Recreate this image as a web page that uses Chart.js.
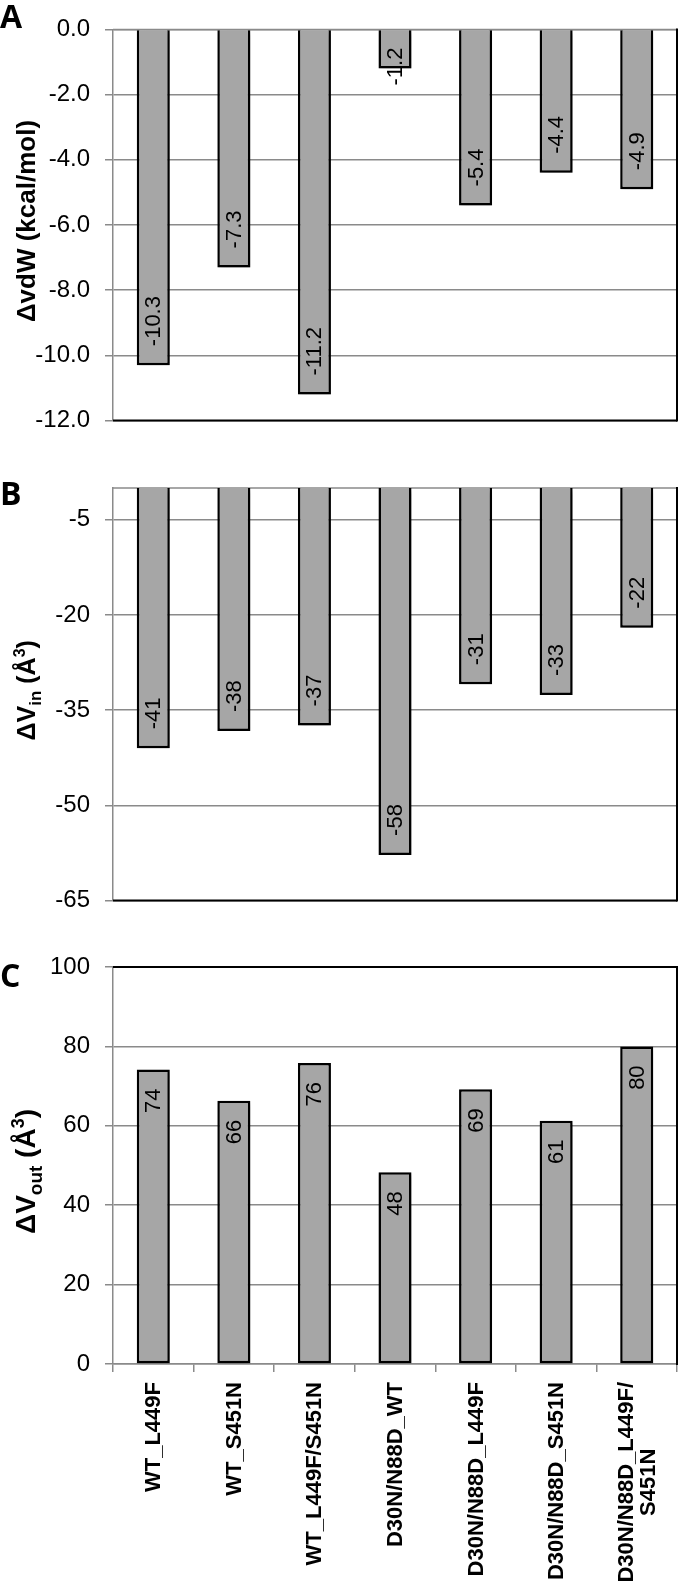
<!DOCTYPE html>
<html>
<head>
<meta charset="utf-8">
<script src="https://cdn.jsdelivr.net/npm/chart.js@4.4.1/dist/chart.umd.min.js"></script>
<style>
  html, body { margin: 0; padding: 0; background: #fff; }
  #wrap { position: relative; width: 680px; height: 1589px; }
  canvas { position: absolute; left: 0; }
</style>
</head>
<body>
<div id="wrap">
  <canvas id="chartA" width="680" height="450" style="top:0px"></canvas>
  <canvas id="chartB" width="680" height="480" style="top:450px"></canvas>
  <canvas id="chartC" width="680" height="659" style="top:930px"></canvas>
</div>
<script>
// --- data ---
const categories = [
  ['WT_L449F'], ['WT_S451N'], ['WT_L449F/S451N'], ['D30N/N88D_WT'],
  ['D30N/N88D_L449F'], ['D30N/N88D_S451N'], ['D30N/N88D_L449F/', 'S451N']
];
const vdwValues = [-10.3, -7.3, -11.2, -1.2, -5.4, -4.4, -4.9];
const vinValues = [-41.0, -38.3, -37.4, -57.8, -30.9, -32.6, -22.0];
const voutValues = [74.2, 66.3, 75.8, 48.3, 69.2, 61.3, 80.0];
const vdwTicks = [0, -2, -4, -6, -8, -10, -12];
const vinTicks = [-5, -20, -35, -50, -65];
const voutTicks = [0, 20, 40, 60, 80, 100];

const FONT = "'Liberation Sans', Arial, sans-serif";
const GRID = '#8a8a8a';
Chart.defaults.font.family = FONT;
Chart.defaults.color = '#000';

// frame, shadow, value labels, titles, letters
const panelExtras = {
  id: 'panelExtras',
  beforeDatasetsDraw(chart, args, o) {
    const { ctx, chartArea: a } = chart;
    const line = (x1, y1, x2, y2, c) => {
      ctx.beginPath();
      ctx.strokeStyle = c;
      ctx.lineWidth = c === '#000' ? 2 : 1.5;
      ctx.moveTo(x1, y1); ctx.lineTo(x2, y2); ctx.stroke();
    };
    ctx.save();
    line(a.left, a.top, a.right, a.top, o.frameTop);
    if (o.frameBottom) line(a.left, a.bottom, a.right, a.bottom, o.frameBottom);
    line(a.right, a.top - 1, a.right, a.bottom + 1, '#000');
    ctx.restore();
    ctx.save();
    ctx.shadowColor = 'rgba(0,0,0,0.35)';
    ctx.shadowBlur = 5;
    ctx.shadowOffsetX = 2;
    ctx.shadowOffsetY = 3;
  },
  afterDatasetsDraw(chart, args, o) {
    const { ctx } = chart;
    ctx.restore();
    const vals = chart.data.datasets[0].data;
    ctx.save();
    ctx.font = `22px ${FONT}`;
    ctx.fillStyle = '#000';
    ctx.textBaseline = 'middle';
    chart.getDatasetMeta(0).data.forEach((bar, i) => {
      const v = vals[i];
      const txt = v.toFixed(o.decimals);
      const w = ctx.measureText(txt).width;
      const len = Math.abs(bar.base - bar.y);
      const inset = 19;
      ctx.save();
      if (len < inset + w + 2) {
        ctx.translate(bar.x + 1, bar.y - 2);
        ctx.rotate(-Math.PI / 2);
        ctx.textAlign = 'center';
      } else if (v < 0) {
        ctx.translate(bar.x + 1, bar.y - inset);
        ctx.rotate(-Math.PI / 2);
        ctx.textAlign = 'left';
      } else {
        ctx.translate(bar.x + 1, bar.y + inset);
        ctx.rotate(-Math.PI / 2);
        ctx.textAlign = 'right';
      }
      ctx.fillText(txt, 0, 0);
      ctx.restore();
    });
    ctx.restore();
  },
  afterDraw(chart, args, o) {
    const { ctx, chartArea: a } = chart;
    ctx.save();
    // panel letter
    ctx.font = `bold 32px 'Open Sans', ${FONT}`;
    ctx.fillStyle = '#000';
    ctx.textAlign = 'left';
    ctx.textBaseline = 'alphabetic';
    ctx.fillText(o.letter, 0, o.letterY);
    // y title with sub/superscripts
    ctx.translate(26, (a.top + a.bottom) / 2 + o.titleShift);
    ctx.rotate(-Math.PI / 2);
    let total = 0;
    o.title.forEach(s => { ctx.font = `bold ${s.size}px ${FONT}`; s.w = ctx.measureText(s.t).width; total += s.w; });
    let x = -total / 2;
    o.title.forEach(s => {
      ctx.font = `bold ${s.size}px ${FONT}`;
      ctx.fillText(s.t, x, 9 + (s.dy || 0));
      x += s.w;
    });
    ctx.restore();
    // category labels
    if (o.showCategories) {
      const xs = chart.scales.x;
      ctx.save();
      ctx.font = `bold 22px ${FONT}`;
      ctx.fillStyle = '#000';
      ctx.textBaseline = 'middle';
      ctx.textAlign = 'right';
      const lh = 22;
      categories.forEach((lines, i) => {
        const cx = xs.getPixelForValue(i) + 1;
        const widths = lines.map(l => ctx.measureText(l).width);
        const maxW = Math.max(...widths);
        lines.forEach((l, j) => {
          ctx.save();
          ctx.translate(cx + (j - (lines.length - 1) / 2) * lh, a.bottom + 18);
          ctx.rotate(-Math.PI / 2);
          ctx.fillText(l, -(maxW - widths[j]) / 2, 0);
          ctx.restore();
        });
      });
      ctx.restore();
    }
  }
};

function makePanel(id, values, ticks, min, max, decimals, extra) {
  const ctx = document.getElementById(id).getContext('2d');
  return new Chart(ctx, {
    type: 'bar',
    data: {
      labels: categories.map(c => c.join(' ')),
      datasets: [{
        data: values,
        backgroundColor: '#a6a6a6',
        borderColor: '#000',
        borderWidth: 2.5,
        borderSkipped: extra.skip,
        categoryPercentage: 1,
        barPercentage: 0.41
      }]
    },
    options: {
      responsive: false,
      animation: false,
      devicePixelRatio: 1,
      layout: { padding: { top: extra.padTop, bottom: extra.padBottom, left: 0, right: 3 } },
      plugins: {
        legend: { display: false },
        tooltip: { enabled: false },
        panelExtras: extra.plugin
      },
      scales: {
        x: extra.xAxis,
        y: {
          min: min, max: max,
          afterBuildTicks: s => { s.ticks = ticks.map(v => ({ value: v })); },
          afterFit: s => { s.width = 113; },
          grid: { color: GRID, lineWidth: 1.5, tickLength: 8, tickColor: GRID },
          border: { display: true, color: GRID, width: 1.5 },
          ticks: {
            padding: 15,
            font: { size: 24 },
            color: '#000',
            callback: v => Number(v).toFixed(decimals)
          }
        }
      }
    },
    plugins: [panelExtras]
  });
}

const hiddenX = { display: false };

makePanel('chartA', vdwValues, vdwTicks, -12, 0, 1, {
  padTop: 8, padBottom: 20, skip: 'start', xAxis: hiddenX,
  plugin: { decimals: 1, frameTop: GRID, frameBottom: '#000', letter: 'A', letterY: 28, titleShift: -4,
    title: [{ t: 'ΔvdW (kcal/mol)', size: 26 }] }
});

makePanel('chartB', vinValues, vinTicks, -65, 0, 0, {
  padTop: 38, padBottom: 25, skip: 'start', xAxis: hiddenX,
  plugin: { decimals: 0, frameTop: GRID, frameBottom: '#000', letter: 'B', letterY: 55, titleShift: -4,
    title: [{ t: 'ΔV', size: 25 }, { t: 'in', size: 17, dy: 6 }, { t: ' (Å', size: 25 }, { t: '3', size: 16, dy: -10 }, { t: ')', size: 25 }] }
});

makePanel('chartC', voutValues, voutTicks, 0, 100, 0, {
  padTop: 37, padBottom: 0, skip: false,
  xAxis: {
    display: true,
    afterFit: s => { s.height = 225; },
    grid: { offset: true, drawOnChartArea: false, color: GRID, lineWidth: 1.5, tickLength: 8 },
    border: { display: true, color: GRID, width: 1.5 },
    ticks: { display: false }
  },
  plugin: { decimals: 0, frameTop: '#000', frameBottom: null, letter: 'C', letterY: 57, titleShift: 6, showCategories: true,
    title: [{ t: 'ΔV', size: 28 }, { t: 'out', size: 19, dy: 7 }, { t: ' (Å', size: 28 }, { t: '3', size: 18, dy: -11 }, { t: ')', size: 28 }] }
});
</script>
</body>
</html>
